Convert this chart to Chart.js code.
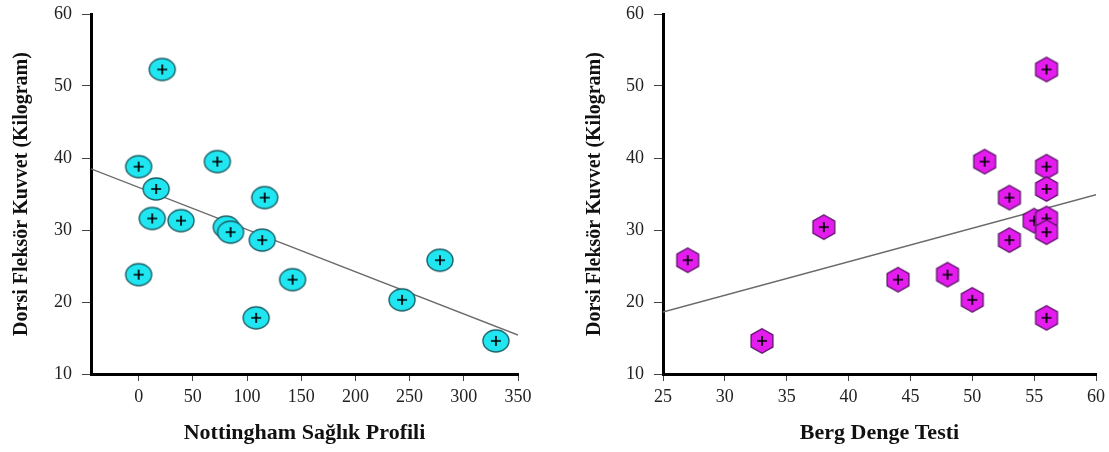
<!DOCTYPE html>
<html>
<head>
<meta charset="utf-8">
<script src="https://cdn.jsdelivr.net/npm/chart.js@4"></script>
<style>
  html, body { margin: 0; padding: 0; background: #fff; }
  #wrap { position: relative; width: 1109px; height: 452px; }
  .box { position: absolute; top: 0; height: 452px; }
</style>
</head>
<body>
<div id="wrap">
  <div class="box" style="left:0;width:555px"><canvas id="c1"></canvas></div>
  <div class="box" style="left:555px;width:554px"><canvas id="c2"></canvas></div>
</div>
<script>
// Shared outcome: Dorsi Fleksör Kuvvet (Kilogram)
const strength = [52.3, 38.8, 39.5, 35.7, 34.5, 31.6, 31.3, 30.4, 29.7, 28.6, 23.8, 23.1, 25.8, 20.3, 17.8, 14.6];
// Nottingham Sağlık Profili scores (same subjects order)
const nottingham = [21.7, 0, 72.6, 16.1, 116.3, 12.5, 39.1, 80.8, 84.8, 114, 0, 142, 278, 243, 108.4, 329.6];
// Berg Denge Testi scores
const bergX = [56, 56, 51, 56, 53, 55, 56, 38, 56, 53, 48, 44, 27, 50, 56, 33];
const bergY = [52.3, 38.8, 39.5, 35.7, 34.5, 31.3, 31.6, 30.4, 29.7, 28.6, 23.8, 23.1, 25.8, 20.3, 17.8, 14.6];
// Regression line endpoints
const trend1X = [-44, 350];
const trend1Y = [38.5, 15.4];
const trend2X = [25, 60];
const trend2Y = [18.6, 34.9];
// Axis ranges and titles
const yTicks = [10, 20, 30, 40, 50, 60];
const yTitle = 'Dorsi Fleksör Kuvvet (Kilogram)';
const x1Title = 'Nottingham Sağlık Profili';
const x2Title = 'Berg Denge Testi';

function ellipseMarker() {
  const c = document.createElement('canvas');
  c.width = 30; c.height = 26;
  const g = c.getContext('2d');
  g.beginPath();
  g.ellipse(15, 13, 13, 11, 0, 0, Math.PI * 2);
  g.fillStyle = '#1FE6F0';
  g.fill();
  g.lineWidth = 1.4;
  g.strokeStyle = '#1C5F66';
  g.stroke();
  g.beginPath();
  g.moveTo(10, 13); g.lineTo(20, 13);
  g.moveTo(15, 8); g.lineTo(15, 18);
  g.lineWidth = 1.7;
  g.strokeStyle = '#000';
  g.stroke();
  return c;
}
function hexMarker() {
  const c = document.createElement('canvas');
  c.width = 28; c.height = 28;
  const g = c.getContext('2d');
  const cx = 14, cy = 14, rx = 12.6, ry = 12.3;
  g.beginPath();
  for (let i = 0; i < 6; i++) {
    const a = -Math.PI / 2 + i * Math.PI / 3;
    const px = cx + rx * Math.cos(a), py = cy + ry * Math.sin(a);
    if (i === 0) g.moveTo(px, py); else g.lineTo(px, py);
  }
  g.closePath();
  g.fillStyle = '#E41CEE';
  g.fill();
  g.lineWidth = 1.3;
  g.strokeStyle = '#5A1466';
  g.stroke();
  g.beginPath();
  g.moveTo(9, 14); g.lineTo(19, 14);
  g.moveTo(14, 9); g.lineTo(14, 19);
  g.lineWidth = 1.7;
  g.strokeStyle = '#000';
  g.stroke();
  return c;
}

const tickFont = { family: '"Liberation Serif", "Times New Roman", serif', size: 18 };
const yTitleFont = { family: '"Liberation Serif", "Times New Roman", serif', size: 20, weight: 'bold' };
const xTitleFont = { family: '"Liberation Serif", "Times New Roman", serif', size: 22, weight: 'bold' };

function makeChart(id, xs, ys, tx, ty, marker, xMin, xMax, xStep, xTitle, yAxisWidth, yTitlePad, rightPad) {
  const pts = xs.map((x, i) => ({ x: x, y: ys[i] }));
  const line = tx.map((x, i) => ({ x: x, y: ty[i] }));
  return new Chart(document.getElementById(id), {
    type: 'scatter',
    data: {
      datasets: [
        { type: 'scatter', data: pts, pointStyle: marker, pointRadius: 12, pointHoverRadius: 12, order: 0 },
        { type: 'line', data: line, borderColor: '#6a6a6a', borderWidth: 1.4, pointRadius: 0, fill: false, order: 1 }
      ]
    },
    options: {
      responsive: true,
      maintainAspectRatio: false,
      animation: false,
      events: [],
      layout: { padding: { left: 0, right: rightPad, top: 14, bottom: 0 } },
      plugins: { legend: { display: false }, tooltip: { enabled: false } },
      scales: {
        x: {
          type: 'linear', min: xMin, max: xMax,
          ticks: { stepSize: xStep, includeBounds: false, font: tickFont, color: '#222', padding: 5, maxRotation: 0 },
          grid: { drawOnChartArea: false, drawTicks: true, tickLength: 7, color: '#444', lineWidth: 1 },
          border: { display: true, color: '#000', width: 3 },
          title: { display: true, text: xTitle, font: xTitleFont, color: '#111', padding: { top: 0, bottom: 5 } },
          afterFit: (s) => { s.height = 78; s.paddingLeft = 0; s.paddingRight = 0; }
        },
        y: {
          type: 'linear', min: yTicks[0], max: yTicks[yTicks.length - 1],
          afterBuildTicks: (s) => { s.ticks = yTicks.map(v => ({ value: v })); },
          ticks: { font: tickFont, color: '#222', padding: 10 },
          grid: { drawOnChartArea: false, drawTicks: true, tickLength: 9, color: '#444', lineWidth: 1 },
          border: { display: true, color: '#000', width: 3 },
          title: { display: true, text: yTitle, font: yTitleFont, color: '#111', padding: { top: yTitlePad, bottom: 0 } },
          afterFit: (s) => { s.width = yAxisWidth; s.paddingTop = 0; s.paddingBottom = 0; }
        }
      }
    }
  });
}

makeChart('c1', nottingham, strength, trend1X, trend1Y, ellipseMarker(), -44, 350, 50, x1Title, 91, 10, 37);
makeChart('c2', bergX, bergY, trend2X, trend2Y, hexMarker(), 25, 60, 5, x2Title, 108, 28, 13);
</script>
</body>
</html>
